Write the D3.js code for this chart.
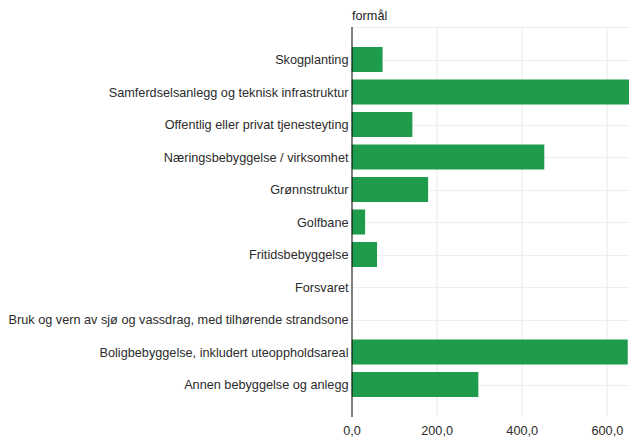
<!DOCTYPE html>
<html>
<head>
<meta charset="utf-8">
<script src="https://cdn.jsdelivr.net/npm/d3@7"></script>
<style>
  body { margin: 0; background: #fff; }
  text { font-family: "Liberation Sans", Arial, sans-serif; }
</style>
</head>
<body>
<script>
// data
var kategorier = ["Skogplanting",
                  "Samferdselsanlegg og teknisk infrastruktur",
                  "Offentlig eller privat tjenesteyting",
                  "Næringsbebyggelse / virksomhet",
                  "Grønnstruktur",
                  "Golfbane",
                  "Fritidsbebyggelse",
                  "Forsvaret",
                  "Bruk og vern av sjø og vassdrag, med tilhørende strandsone",
                  "Boligbebyggelse, inkludert uteoppholdsareal",
                  "Annen bebyggelse og anlegg"];
var verdier = [73, 680, 143, 453, 180, 32, 60, 0, 0, 649, 298];
var ticks = [0, 200, 400, 600];
var tittel = "formål";

// margins
var margin = {top: 27, right: 1, bottom: 25, left: 351.5};
var width = 630 - margin.left - margin.right;
var height = 442 - margin.top - margin.bottom;

var svg = d3.select("body").append("svg")
  .attr("width", 630)
  .attr("height", 442);

var g = svg.append("g")
  .attr("transform", "translate(" + margin.left + "," + margin.top + ")");

// scales
var xScale = d3.scaleLinear().domain([0, 652]).range([0, width]);
var yScale = d3.scalePoint().domain(kategorier).range([0, height]).padding(1);

g.append("clipPath").attr("id", "clip")
  .append("rect").attr("width", width).attr("height", height);

// grid
g.selectAll(".vgrid").data(ticks.slice(1)).enter().append("line")
  .attr("x1", function(d){ return Math.round(xScale(d)) + 0.5; })
  .attr("x2", function(d){ return Math.round(xScale(d)) + 0.5; })
  .attr("y1", 0).attr("y2", height)
  .attr("stroke", "#e8e8e8");
g.selectAll(".hgrid").data([null].concat(kategorier)).enter().append("line")
  .attr("x1", 0).attr("x2", width)
  .attr("y1", function(d){ return d == null ? 0.5 : Math.round(yScale(d)) + 0.5; })
  .attr("y2", function(d){ return d == null ? 0.5 : Math.round(yScale(d)) + 0.5; })
  .attr("stroke", "#eeeeee");

// bars
g.append("g").attr("clip-path", "url(#clip)")
  .selectAll("rect").data(kategorier).enter().append("rect")
  .attr("x", 0)
  .attr("y", function(d){ return yScale(d) - 12.5; })
  .attr("height", 25)
  .attr("width", function(d, i){ return xScale(verdier[i]); })
  .attr("fill", "#1e9b4b");

// y axis
var yAxis = d3.axisLeft(yScale).tickSize(0).tickPadding(3);
var yAxisGroup = g.append("g").call(yAxis);
yAxisGroup.select(".domain").remove();
yAxisGroup.selectAll("text")
  .attr("font-size", 12.7).attr("fill", "#2b2b2b").style("font-family", "Liberation Sans, Arial, sans-serif");
g.append("line")
  .attr("x1", 0.5).attr("x2", 0.5).attr("y1", 0).attr("y2", height)
  .attr("stroke", "#000");

// x axis
var xAxis = d3.axisBottom(xScale).tickValues(ticks).tickSize(0).tickPadding(9)
  .tickFormat(function(d){ return d3.format(".1f")(d).replace(".", ","); });
var xAxisGroup = g.append("g").attr("transform", "translate(0," + height + ")").call(xAxis);
xAxisGroup.select(".domain").remove();
xAxisGroup.selectAll("text")
  .attr("font-size", 12.7).attr("fill", "#2b2b2b").style("font-family", "Liberation Sans, Arial, sans-serif");

// title
svg.append("text")
  .attr("x", 352).attr("y", 20)
  .attr("font-size", 12.7).attr("fill", "#222")
  .text(tittel);
</script>
</body>
</html>
